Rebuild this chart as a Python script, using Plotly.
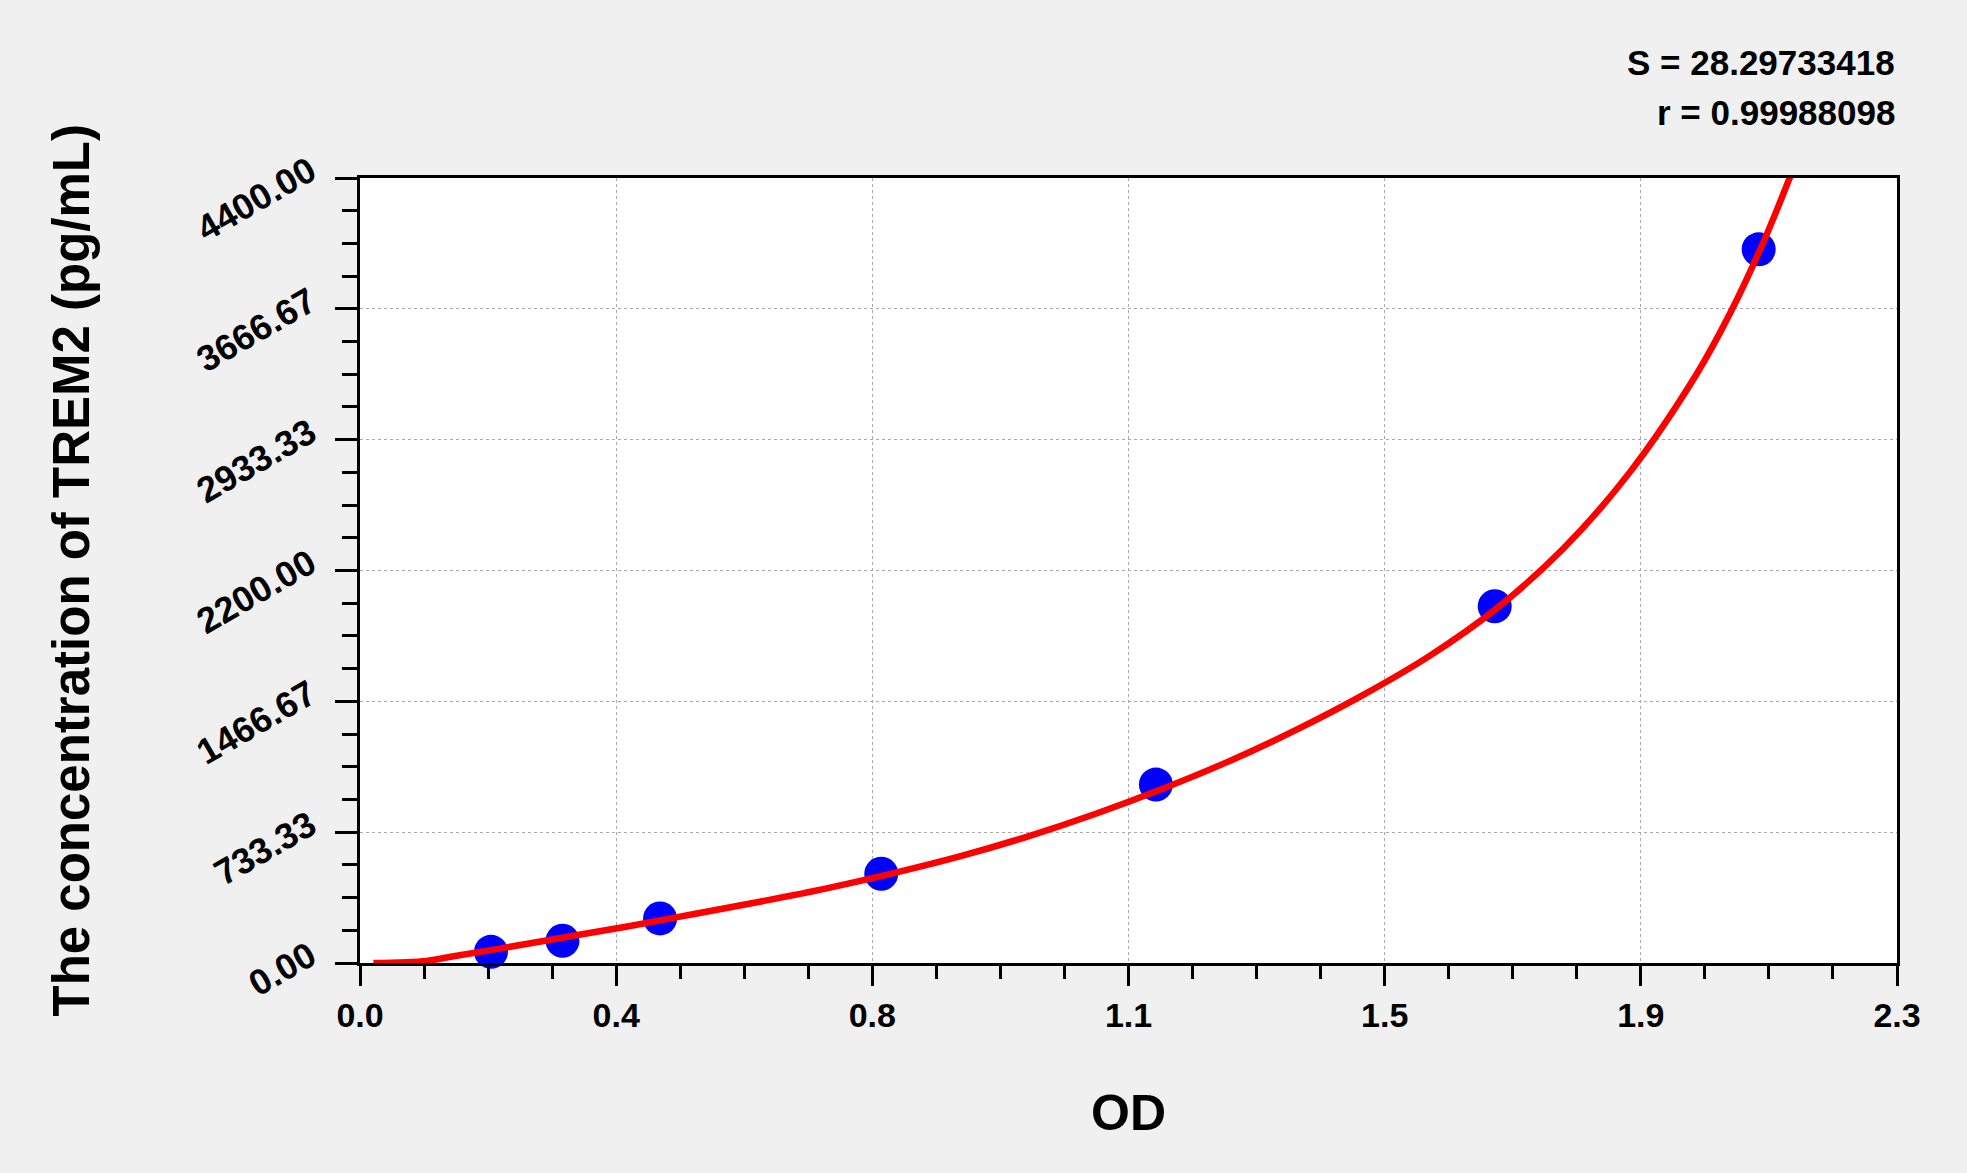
import plotly.graph_objects as go

# standards: OD readings and known concentrations (pg/mL)
od = [0.196, 0.303, 0.449, 0.780, 1.191, 1.698, 2.093]
conc = [62.5, 125, 250, 500, 1000, 2000, 4000]

# fitted curve
fit_od = [0.02, 0.10, 0.14, 0.20, 0.30, 0.40, 0.50, 0.60, 0.70, 0.80, 0.90, 1.00,
          1.10, 1.20, 1.30, 1.40, 1.50, 1.60, 1.70, 1.80, 1.90, 2.00, 2.05, 2.10, 2.145]
fit_conc = [0, 12, 38, 75, 140, 205, 275, 345, 420, 505, 600, 710,
            835, 975, 1130, 1305, 1500, 1720, 1985, 2320, 2750, 3300, 3640, 4040, 4454]

x_ticks = [0, 2.3 / 6, 2.3 / 3, 1.15, 2.3 * 2 / 3, 2.3 * 5 / 6, 2.3]
x_labels = ['0.0', '0.4', '0.8', '1.1', '1.5', '1.9', '2.3']
y_ticks = [0, 4400 / 6, 4400 / 3, 2200, 4400 * 2 / 3, 4400 * 5 / 6, 4400]
y_labels = ['0.00', '733.33', '1466.67', '2200.00', '2933.33', '3666.67', '4400.00']

s_text = 'S = 28.29733418'
r_text = 'r = 0.99988098'

font = 'Liberation Sans, Arial, sans-serif'

fig = go.Figure()
fig.add_trace(go.Scatter(x=od, y=conc, mode='markers',
                         marker=dict(color='#0000ff', size=34, line=dict(width=0)),
                         showlegend=False, cliponaxis=False))
fig.add_trace(go.Scatter(x=fit_od, y=fit_conc, mode='lines',
                         line=dict(color='#ff0000', width=6.5, shape='spline'),
                         showlegend=False))

fig.update_xaxes(range=[0, 2.3], tickmode='array', tickvals=x_ticks, ticktext=x_labels,
                 ticks='outside', ticklen=20, tickwidth=3, tickcolor='black',
                 showline=True, linewidth=3, linecolor='black', mirror=True,
                 showgrid=True, gridcolor='#a8a8a8', griddash='dot', gridwidth=1,
                 zeroline=False,
                 minor=dict(tickmode='linear', tick0=0, dtick=2.3 / 24, ticks='outside',
                            ticklen=13, tickwidth=3, tickcolor='black', showgrid=False),
                 tickfont=dict(family=font, size=34, color='black', weight='bold'))
fig.update_yaxes(range=[0, 4400], tickmode='array', tickvals=y_ticks, ticktext=y_labels,
                 ticks='outside', ticklen=22, tickwidth=3, tickcolor='black',
                 showline=True, linewidth=3, linecolor='black', mirror=True,
                 showgrid=True, gridcolor='#a8a8a8', griddash='dot', gridwidth=1,
                 zeroline=False, tickangle=-30, ticklabelstandoff=18, ticklabelshift=-11,
                 minor=dict(tickmode='linear', tick0=0, dtick=4400 / 24, ticks='outside',
                            ticklen=15, tickwidth=3, tickcolor='black', showgrid=False),
                 tickfont=dict(family=font, size=36, color='black', weight='bold'))

# axis titles
fig.add_annotation(text='The concentration of TREM2 (pg/mL)', xref='paper', yref='paper',
                   x=0, y=0.5, xanchor='center', yanchor='middle', xshift=-289,
                   textangle=-90, showarrow=False,
                   font=dict(family=font, size=51, color='black', weight='bold'))
fig.add_annotation(text='OD', xref='paper', yref='paper', x=0.5, y=0,
                   xanchor='center', yanchor='middle', yshift=-150, showarrow=False,
                   font=dict(family=font, size=50, color='black', weight='bold'))

fig.add_annotation(text=s_text, xref='paper', yref='paper', x=1.0, y=1.0,
                   xanchor='right', yanchor='middle', yshift=116, showarrow=False,
                   font=dict(family=font, size=35, color='black', weight='bold'))
fig.add_annotation(text=r_text, xref='paper', yref='paper', x=1.0, y=1.0,
                   xanchor='right', yanchor='middle', yshift=66, showarrow=False,
                   font=dict(family=font, size=35, color='black', weight='bold'))

fig.update_layout(width=1967, height=1173, paper_bgcolor='#f0f0f0', plot_bgcolor='white',
                  margin=dict(l=360, r=70, t=178, b=210, autoexpand=False))

fig.write_html('out.html', config={'displayModeBar': False},
               post_script="document.body.style.margin='0';"
                           "document.body.style.background='#f0f0f0';")
